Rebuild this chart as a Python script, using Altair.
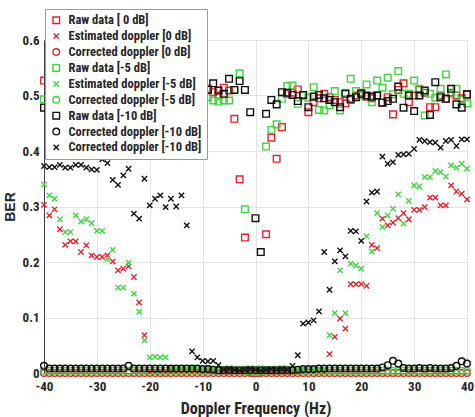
import altair as alt
import pandas as pd

# Doppler offsets (Hz), one measurement per integer offset
freq = list(range(-40, 41))

# Raw data [0 dB] (BER)
raw_0db = [
    0.527, 0.51, 0.49, 0.52, 0.50, 0.48, 0.51, 0.53, 0.50, 0.49,
    0.51, 0.52, 0.50, 0.48, 0.51, 0.50, 0.49, 0.52, 0.51, 0.50,
    0.48, 0.51, 0.53, 0.50, 0.49, 0.51, 0.50, 0.52, 0.49, 0.50,
    0.505, 0.512, 0.506, 0.500, 0.514, 0.509, 0.458, 0.349, 0.244, 0.002,
    0.000, 0.002, 0.250, 0.424, 0.386, 0.443, 0.503, 0.505, 0.511, 0.500,
    0.470, 0.488, 0.495, 0.503, 0.497, 0.492, 0.488, 0.486, 0.492, 0.500,
    0.505, 0.498, 0.495, 0.500, 0.487, 0.497, 0.466, 0.510, 0.522, 0.488,
    0.500, 0.510, 0.505, 0.479, 0.479, 0.500, 0.494, 0.505, 0.500, 0.495,
    0.502,
]

# Estimated doppler [0 dB]
est_0db = [
    0.303, 0.284, 0.295, 0.259, 0.231, 0.237, 0.237, 0.218, 0.230, 0.212,
    0.209, 0.209, 0.212, 0.201, 0.185, 0.188, 0.192, 0.173, 0.127, 0.068,
    0.002, 0.001, 0.002, 0.001, 0.003, 0.002, 0.001, 0.002, 0.001, 0.002,
    0.001, 0.002, 0.003, 0.004, 0.003, 0.002, 0.003, 0.002, 0.001, 0.002,
    0.001, 0.002, 0.001, 0.002, 0.001, 0.002, 0.001, 0.002, 0.001, 0.002,
    0.001, 0.002, 0.001, 0.002, 0.034, 0.065, 0.098, 0.080, 0.160, 0.160,
    0.160, 0.157, 0.231, 0.225, 0.278, 0.266, 0.271, 0.279, 0.288, 0.277,
    0.294, 0.294, 0.299, 0.316, 0.316, 0.302, 0.302, 0.338, 0.327, 0.323,
    0.313,
]

# Corrected doppler [0 dB]
cor_0db = [0.0] * 81

# Raw data [-5 dB]
raw_5db = [
    0.493, 0.50, 0.52, 0.49, 0.51, 0.50, 0.48, 0.50, 0.52, 0.51,
    0.49, 0.50, 0.51, 0.49, 0.50, 0.52, 0.50, 0.48, 0.50, 0.51,
    0.49, 0.50, 0.51, 0.52, 0.50, 0.49, 0.51, 0.50, 0.48, 0.50,
    0.500, 0.497, 0.491, 0.489, 0.491, 0.491, 0.510, 0.540, 0.295, 0.003,
    0.002, 0.003, 0.408, 0.438, 0.448, 0.494, 0.517, 0.518, 0.485, 0.500,
    0.496, 0.515, 0.474, 0.473, 0.482, 0.508, 0.473, 0.505, 0.530, 0.508,
    0.500, 0.520, 0.488, 0.527, 0.514, 0.532, 0.502, 0.544, 0.503, 0.503,
    0.527, 0.512, 0.464, 0.503, 0.496, 0.512, 0.538, 0.503, 0.512, 0.492,
    0.486,
]

# Estimated doppler [-5 dB]
est_5db = [
    0.340, 0.320, 0.314, 0.277, 0.254, 0.254, 0.284, 0.273, 0.277, 0.270,
    0.256, 0.256, 0.205, 0.222, 0.154, 0.154, 0.199, 0.143, 0.110, 0.059,
    0.028, 0.029, 0.028, 0.028, 0.009, 0.008, 0.009, 0.008, 0.010, 0.009,
    0.008, 0.009, 0.008, 0.007, 0.008, 0.009, 0.008, 0.007, 0.008, 0.009,
    0.008, 0.009, 0.008, 0.007, 0.008, 0.009, 0.008, 0.007, 0.008, 0.007,
    0.008, 0.007, 0.008, 0.007, 0.068, 0.108, 0.185, 0.108, 0.197, 0.194,
    0.188, 0.246, 0.219, 0.288, 0.263, 0.284, 0.296, 0.322, 0.269, 0.310,
    0.338, 0.336, 0.353, 0.353, 0.364, 0.362, 0.354, 0.374, 0.370, 0.377,
    0.368,
]

# Corrected doppler [-5 dB]
cor_5db = [0.004] * 81

# Raw data [-10 dB]
raw_10db = [
    0.478, 0.51, 0.49, 0.50, 0.52, 0.50, 0.49, 0.51, 0.50, 0.48,
    0.50, 0.51, 0.49, 0.52, 0.50, 0.51, 0.49, 0.50, 0.51, 0.50,
    0.52, 0.49, 0.50, 0.51, 0.50, 0.49, 0.50, 0.51, 0.50, 0.49,
    0.503, 0.510, 0.522, 0.509, 0.503, 0.530, 0.510, 0.526, 0.510, 0.470,
    0.279, 0.218, 0.467, 0.492, 0.484, 0.506, 0.505, 0.501, 0.490, 0.501,
    0.479, 0.498, 0.501, 0.495, 0.492, 0.488, 0.479, 0.503, 0.494, 0.497,
    0.503, 0.500, 0.498, 0.500, 0.487, 0.490, 0.494, 0.516, 0.478, 0.500,
    0.472, 0.500, 0.509, 0.465, 0.524, 0.497, 0.494, 0.512, 0.484, 0.478,
    0.502,
]

# Corrected doppler [-10 dB] (circles)
cor_10db = [
    0.013, 0.008, 0.008, 0.008, 0.008, 0.008, 0.008, 0.008, 0.008, 0.008,
    0.008, 0.008, 0.008, 0.008, 0.008, 0.008, 0.013, 0.008, 0.008, 0.008,
    0.008, 0.008, 0.008, 0.008, 0.008, 0.008, 0.008, 0.008, 0.008, 0.008,
    0.007, 0.007, 0.006, 0.005, 0.005, 0.005, 0.005, 0.005, 0.005, 0.005,
    0.005, 0.005, 0.005, 0.005, 0.005, 0.005, 0.005, 0.005, 0.006, 0.007,
    0.007, 0.007, 0.008, 0.008, 0.008, 0.008, 0.008, 0.008, 0.008, 0.008,
    0.008, 0.008, 0.008, 0.008, 0.010, 0.014, 0.022, 0.017, 0.009, 0.008,
    0.008, 0.009, 0.008, 0.009, 0.008, 0.008, 0.008, 0.009, 0.013, 0.021,
    0.017,
]

# Second black series, drawn with x markers
est_10db = [
    0.373, 0.371, 0.371, 0.375, 0.370, 0.370, 0.375, 0.375, 0.370, 0.367,
    0.366, 0.385, 0.378, 0.348, 0.339, 0.356, 0.368, 0.287, 0.278, 0.350,
    0.302, 0.314, 0.320, 0.299, 0.314, 0.300, 0.320, 0.266, 0.039, 0.028,
    0.022, 0.021, 0.022, 0.014, 0.006, 0.007, 0.006, 0.005, 0.006, 0.007,
    0.006, 0.005, 0.006, 0.007, 0.006, 0.007, 0.006, 0.013, 0.032, 0.089,
    0.091, 0.095, 0.111, 0.218, 0.150, 0.201, 0.221, 0.210, 0.256, 0.255,
    0.238, 0.309, 0.325, 0.327, 0.390, 0.377, 0.380, 0.393, 0.394, 0.395,
    0.404, 0.420, 0.418, 0.416, 0.415, 0.406, 0.418, 0.420, 0.409, 0.421,
    0.421,
]

labels = [
    "Raw data [ 0 dB]",
    "Estimated doppler [0 dB]",
    "Corrected doppler [0 dB]",
    "Raw data [-5 dB]",
    "Estimated doppler [-5 dB]",
    "Corrected doppler [-5 dB]",
    "Raw data [-10 dB]",
    "Corrected doppler [-10 dB]",
    "Corrected doppler [-10 dB]",
]
series = [raw_0db, est_0db, cor_0db, raw_5db, est_5db, cor_5db,
          raw_10db, cor_10db, est_10db]

RED = "#e3262b"
GREEN = "#3fd63f"
BLACK = "#111111"
X_MARK = "M-0.8,-0.8L0.8,0.8M-0.8,0.8L0.8,-0.8"

keys = [f"s{i}" for i in range(1, 10)]
colors = [RED, RED, RED, GREEN, GREEN, GREEN, BLACK, BLACK, BLACK]
shapes = ["square", X_MARK, "circle", "square", X_MARK, "circle",
          "square", "circle", X_MARK]

rows = []
for key, vals in zip(keys, series):
    for f, v in zip(freq, vals):
        rows.append({"freq": f, "ber": v, "key": key})
df = pd.DataFrame(rows)

label_expr = "{" + ", ".join(f"'{k}': '{l}'" for k, l in zip(keys, labels)) + "}[datum.label]"

FONT = "'Roboto Condensed', 'Liberation Sans', Arial, sans-serif"
TXT = "#262626"

chart = (
    alt.Chart(df)
    .mark_point(filled=False, size=44, strokeWidth=1.4, opacity=1)
    .encode(
        x=alt.X(
            "freq:Q",
            scale=alt.Scale(domain=[-40, 40], nice=False),
            axis=alt.Axis(
                values=list(range(-40, 41, 10)),
                labelExpr="'' + datum.value",
                labelFlush=False,
                labelPadding=7,
                title="Doppler Frequency (Hz)",
                titleY=40,
                titleBaseline="alphabetic",
            ),
        ),
        y=alt.Y(
            "ber:Q",
            scale=alt.Scale(domain=[0, 0.6], nice=False),
            axis=alt.Axis(
                values=[0, 0.1, 0.2, 0.3, 0.4, 0.5, 0.6],
                labelExpr="datum.value == 0 ? '0' : format(datum.value, '.1f')",
                labelPadding=5,
                title="BER",
                titlePadding=5,
                titleFont="'Liberation Sans', Arial, sans-serif",
                titleFontSize=14,
            ),
        ),
        color=alt.Color(
            "key:N",
            scale=alt.Scale(domain=keys, range=colors),
            legend=alt.Legend(
                title=None,
                orient="none",
                legendX=1,
                legendY=-31,
                labelExpr=label_expr,
                labelLimit=300,
                symbolSize=44,
                symbolStrokeWidth=1.4,
                symbolFillColor="transparent",
                labelFont=FONT,
                labelFontSize=12.5,
                labelFontWeight="bold",
                labelColor=TXT,
                labelOffset=6,
                rowPadding=2.9,
                padding=5,
                fillColor="white",
                strokeColor="#9a9a9a",
                cornerRadius=0,
            ),
        ),
        shape=alt.Shape("key:N", scale=alt.Scale(domain=keys, range=shapes)),
        order=alt.Order("key:N"),
    )
    .properties(
        width=423,
        height=333,
        autosize=alt.AutoSizeParams(type="none"),
        padding={"left": 44, "top": 40, "right": 8, "bottom": 44},
    )
    .configure_view(stroke="#b8b8b8", strokeWidth=1)
    .configure_axis(
        grid=True,
        gridColor="#e4e4e4",
        gridWidth=1,
        domainColor="#404040",
        domainWidth=1,
        tickSize=0,
        ticks=False,
        labelFont=FONT,
        labelFontSize=13,
        labelFontWeight="bold",
        labelColor=TXT,
        titleFont=FONT,
        titleFontSize=16,
        titleFontWeight="bold",
        titleColor=TXT,
    )
)

chart.save("out.html", embed_options={"renderer": "svg", "actions": False})
